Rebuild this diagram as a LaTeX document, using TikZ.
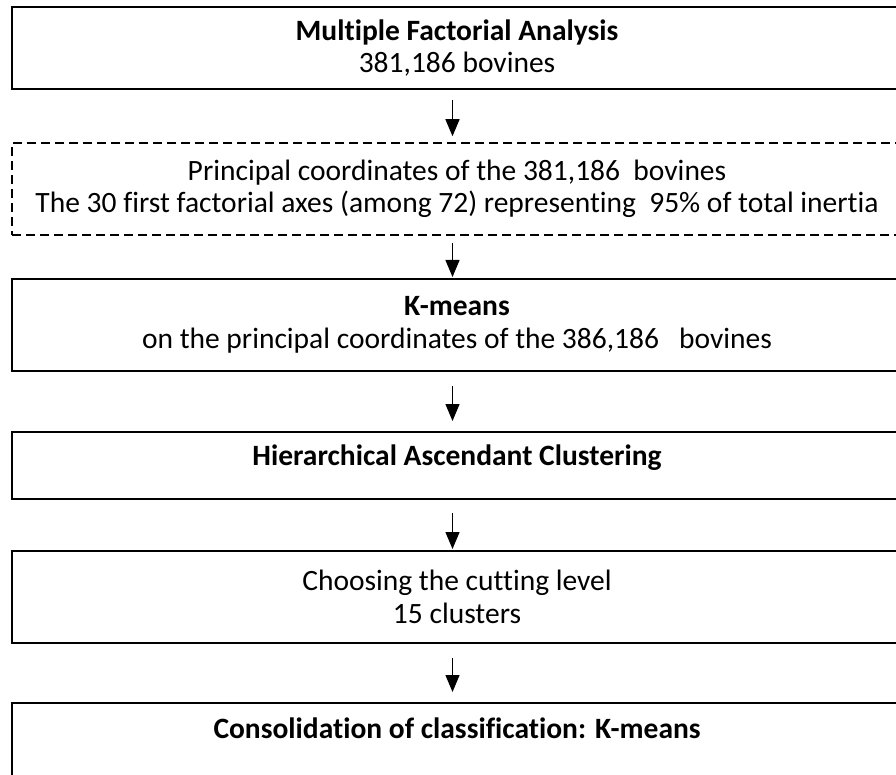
\documentclass[tikz,border=0pt]{standalone}
\usepackage{fontspec}
\setmainfont{Carlito}[Ligatures=NoCommon]
\usetikzlibrary{arrows.meta}
\begin{document}
\begin{tikzpicture}[x=1pt,y=-1pt]
\tikzstyle{stagebox}=[rectangle,draw,line width=2pt,minimum width=890pt,minimum height=92pt,inner sep=0pt,align=center,font=\fontsize{29.5}{32.5}\selectfont]
\tikzstyle{dashbox}=[stagebox,line width=1.5pt,dash pattern=on 9pt off 5pt]
\tikzstyle{flow}=[-{Triangle[width=14pt,length=17pt]},line width=1.3pt]
\useasboundingbox (0,0) rectangle (896,775);
\clip (0,0) rectangle (896,775);
\node[stagebox,minimum height=82pt] (mfa) at (457,48) {\textbf{Multiple Factorial Analysis}\\381,186 bovines};
\node[dashbox] (coords) at (457,189) {Principal coordinates of the 381,186\ \ bovines\\The 30 first factorial axes (among 72) representing\ \ 95\% of total inertia};
\node[stagebox] (kmeans) at (457,325) {\textbf{K-means}\\on the principal coordinates of the 386,186\ \ \ bovines};
\node[stagebox,minimum height=67pt,text depth=21pt] (hac) at (457,465.5) {\textbf{Hierarchical Ascendant Clustering}};
\node[stagebox] (cut) at (457,597) {Choosing the cutting level\\15 clusters};
\node[stagebox] (consol) at (457,749) {\textbf{Consolidation of classification: K-means}\\\strut};
\draw[flow,shorten <=10pt,shorten >=6pt] ([xshift=-4.5pt]mfa.south) -- ([xshift=-4.5pt]coords.north);
\draw[flow,shorten <=7pt,shorten >=1pt] ([xshift=-4.5pt]coords.south) -- ([xshift=-4.5pt]kmeans.north);
\draw[flow,shorten <=14pt,shorten >=10pt] ([xshift=-4.5pt]kmeans.south) -- ([xshift=-4.5pt]hac.north);
\draw[flow,shorten <=13pt,shorten >=1pt] ([xshift=-4.5pt]hac.south) -- ([xshift=-4.5pt]cut.north);
\draw[flow,shorten <=14pt,shorten >=10pt] ([xshift=-4.5pt]cut.south) -- ([xshift=-4.5pt]consol.north);
\end{tikzpicture}
\end{document}
